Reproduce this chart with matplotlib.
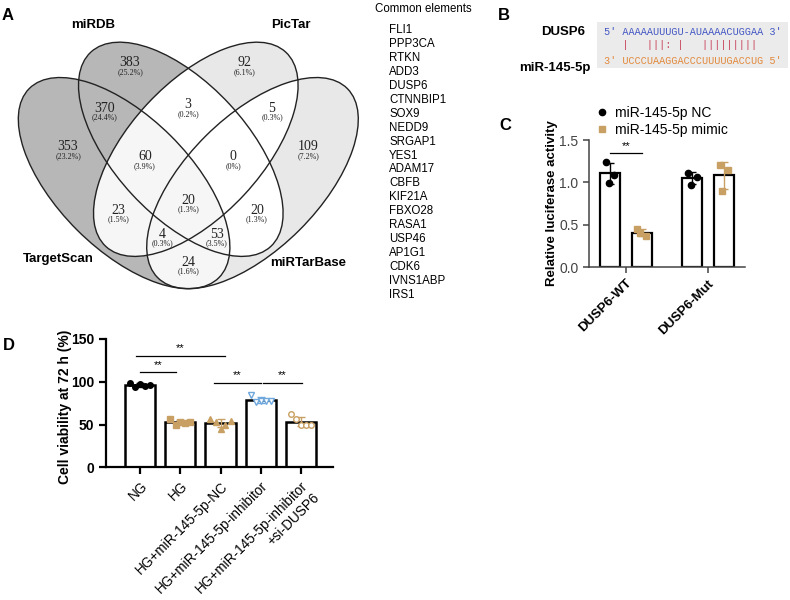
import numpy as np
import matplotlib.pyplot as plt
from matplotlib.patches import Ellipse, Rectangle
from matplotlib.lines import Line2D

plt.rcParams['font.family'] = ['Liberation Sans', 'DejaVu Sans']

# ---------------- data ----------------
# panel A: four-set Venn of predicted targets
set_names = ['TargetScan', 'miRDB', 'PicTar', 'miRTarBase']
venn_counts = [383, 92, 370, 3, 5, 353, 60, 0, 109, 23, 20, 20, 4, 53, 24]
common_genes = ['FLI1', 'PPP3CA', 'RTKN', 'ADD3', 'DUSP6', 'CTNNBIP1', 'SOX9',
                'NEDD9', 'SRGAP1', 'YES1', 'ADAM17', 'CBFB', 'KIF21A', 'FBXO28',
                'RASA1', 'USP46', 'AP1G1', 'CDK6', 'IVNS1ABP', 'IRS1']

# panel B: binding site
target_name = 'DUSP6'
target_seq = 'AAAAAUUUGU-AUAAAACUGGAA'     # 5' -> 3'
mirna_name = 'miR-145-5p'
mirna_seq = 'UCCCUAAGGACCCUUUUGACCUG'      # 3' -> 5'

# panel C: luciferase assay
luc_groups = ['DUSP6-WT', 'DUSP6-Mut']
luc_nc = [[1.24, 1.09, 0.99], [1.11, 1.06, 0.97]]
luc_mimic = [[0.45, 0.37, 0.40], [1.20, 1.15, 0.90]]

# panel D: cell viability
via_groups = ['NG', 'HG', 'HG+miR-145-5p-NC', 'HG+miR-145-5p-inhibitor',
              'HG+miR-145-5p-inhibitor\n+si-DUSP6']
via_values = [[99, 94, 97, 95, 96],
              [57, 50, 53, 52, 53],
              [57, 53, 45, 49, 54],
              [85, 76, 78, 77, 77],
              [62, 56, 49, 50, 50]]

tan = '#c9a063'
blue = '#6fa8dc'

fig = plt.figure(figsize=(7.9, 6), dpi=100)

# background axes in pixel units (y down) for panels A and B
bg = fig.add_axes([0, 0, 1, 1])
bg.axis('off')

# ---------------- panel A ----------------
axis_x = 188.3
eT = (124.1, 183.1, 133.9, 66.4, 44.9)   # cx, cy, semi-major, semi-minor, angle
eM = (180.8, 149.3, 132.4, 66.4, 47.2)
eP = (2 * axis_x - eM[0], eM[1], eM[2], eM[3], -eM[4])
eR = (2 * axis_x - eT[0], eT[1], eT[2], eT[3], -eT[4])
ellipses = [eT, eM, eP, eR]


def inside(e, X, Y):
    cx, cy, a, b, ang = e
    t = np.deg2rad(ang)
    dx, dy = X - cx, Y - cy
    u = dx * np.cos(t) + dy * np.sin(t)
    v = -dx * np.sin(t) + dy * np.cos(t)
    return (u / a) ** 2 + (v / b) ** 2 <= 1


xs = np.arange(10, 370, 0.5)
ys = np.arange(30, 300, 0.5)
X, Y = np.meshgrid(xs, ys)
T, M, P, R = [inside(e, X, Y) for e in ellipses]
n = T.astype(int) + M + P + R
img = np.ones(X.shape + (4,))
img[n == 0, 3] = 0
dark = ((n == 1) & (T | M)) | ((n == 2) & T & M)
light = (n == 1) & (P | R)
pale = T & (n >= 2) & ~dark
img[dark, :3] = 0.72
img[light, :3] = 0.91
img[pale, :3] = 0.965
bg.imshow(img, extent=(10, 370, 300, 30), origin='upper', aspect='auto',
          interpolation='antialiased', zorder=1)
for cx, cy, a, b, ang in ellipses:
    bg.add_patch(Ellipse((cx, cy), 2 * a, 2 * b, angle=ang, fill=False,
                         ec='#222222', lw=1.0, zorder=2))
bg.set_xlim(0, 790)
bg.set_ylim(600, 0)

label_pos = [(130, 63), (245, 63), (105, 108), (188, 105), (272, 108),
             (68, 147), (145, 157), (233, 157), (308, 147),
             (118, 210), (188, 200), (257, 210), (162, 234), (217, 234), (188, 262)]
total = sum(venn_counts)
for c, (x, y) in zip(venn_counts, label_pos):
    ptxt = '(0%)' if c == 0 else f'({100 * c / total:.1f}%)'
    bg.text(x, y, str(c), ha='center', va='center', fontsize=10,
            family='Liberation Serif', color='#222222', zorder=3)
    bg.text(x, y + 9, ptxt, ha='center', va='center', fontsize=5.8,
            family='Liberation Serif', color='#222222', zorder=3)

name_pos = [(58, 259), (93, 25), (291, 25), (308, 263)]
for name, (x, y) in zip(set_names, name_pos):
    bg.text(x, y, name, ha='center', va='center', fontsize=9.5, fontweight='bold')

bg.text(375, 9, 'Common elements', ha='left', va='center', fontsize=8.3)
for i, g in enumerate(common_genes):
    bg.text(389, 30 + i * 13.95, g, ha='left', va='center', fontsize=8.3)

# ---------------- panel B ----------------
bg.add_patch(Rectangle((597, 22), 191, 46, fc='#ebebeb', ec='none'))
bg.text(563, 32, target_name, ha='center', va='center', fontsize=9.5, fontweight='bold')
bg.text(555, 68, mirna_name, ha='center', va='center', fontsize=9.5, fontweight='bold')

# base pairing line: Watson-Crick '|', G-U wobble ':'
wc = {('A', 'U'), ('U', 'A'), ('G', 'C'), ('C', 'G')}
wobble = {('G', 'U'), ('U', 'G')}
pairs = ''.join('|' if (s, m) in wc else ':' if (s, m) in wobble else ' '
                for s, m in zip(target_seq, mirna_seq))
mono = dict(family='Liberation Mono', fontsize=7.3, ha='left', va='center')
bg.text(604, 32, "5' " + target_seq + " 3'", color='#4356c4', **mono)
bg.text(604, 45, "   " + pairs, color='#c8465e', **mono)
bg.text(604, 61, "3' " + mirna_seq + " 5'", color='#e3883a', **mono)

# panel letters
for lab, (x, y) in zip('ABCD', [(8, 15), (504, 15), (505, 125), (9, 346)]):
    bg.text(x, y, lab, ha='center', va='center', fontsize=12, fontweight='bold')

# ---------------- panel C ----------------
axc = fig.add_axes([589 / 790, 1 - 267 / 600, 156 / 790, 127 / 600])
axc.set_facecolor('none')
xc = np.arange(len(luc_groups))
off, w = 0.19, 0.244
jit = [-0.05, 0.05, -0.02]
for vals, sign, col, mk in [(luc_nc, -1, 'black', 'o'), (luc_mimic, 1, tan, 's')]:
    for i, v in enumerate(vals):
        xpos = xc[i] + sign * off
        m, sd = np.mean(v), np.std(v, ddof=1)
        axc.bar(xpos, m, width=w, color='white', edgecolor='black', lw=1.6, zorder=2)
        axc.errorbar(xpos, m, yerr=sd, color=col, capsize=3, lw=1, capthick=1, zorder=3)
        axc.plot(xpos + np.array(jit), v, mk, color=col, ms=4.5, zorder=4)
axc.plot([xc[0] - off, xc[0] + off], [1.35, 1.35], color='black', lw=0.9)
axc.text(xc[0], 1.37, '**', ha='center', va='bottom', fontsize=8)
axc.set_xlim(-0.45, 1.45)
axc.set_ylim(0, 1.5)
axc.set_yticks([0, 0.5, 1.0, 1.5])
axc.set_yticklabels(['0.0', '0.5', '1.0', '1.5'], fontsize=10, color='#333333')
axc.set_xticks(xc)
axc.set_xticklabels(luc_groups, rotation=45, ha='right', rotation_mode='anchor',
                    fontsize=9.5, fontweight='bold')
for s in ['top', 'right']:
    axc.spines[s].set_visible(False)
for s in ['left', 'bottom']:
    axc.spines[s].set_color('#444444')
    axc.spines[s].set_linewidth(1.1)
axc.tick_params(colors='#444444', width=1.1, length=4)
axc.tick_params(axis='x', labelcolor='black')
axc.set_ylabel('Relative luciferase activity', fontsize=9.5, fontweight='bold')
axc.yaxis.set_label_coords(-0.2, 0.5)
handles = [Line2D([], [], marker='o', ls='none', color='black', ms=4.5),
           Line2D([], [], marker='s', ls='none', color=tan, ms=4.5)]
axc.legend(handles, ['miR-145-5p NC', 'miR-145-5p mimic'], loc='upper left',
           bbox_to_anchor=(596 / 790, 1 - 106 / 600), bbox_transform=fig.transFigure,
           frameon=False, fontsize=10, handlelength=0.8, handletextpad=0.6,
           labelspacing=0.2, borderaxespad=0, borderpad=0)

# ---------------- panel D ----------------
axd = fig.add_axes([106 / 790, 1 - 467.3 / 600, 227 / 790, 128.4 / 600])
axd.set_facecolor('none')
xd = np.arange(len(via_groups))
styles = [('black', 'o', 'black'), (tan, 's', tan), (tan, '^', tan),
          (blue, 'v', 'white'), (tan, 'o', 'white')]
jd = np.array([-0.25, -0.12, 0.0, 0.12, 0.25])
for i, (v, (col, mk, fc)) in enumerate(zip(via_values, styles)):
    m, sd = np.mean(v), np.std(v, ddof=1)
    axd.bar(xd[i], m, width=0.75, color='white', edgecolor='black', lw=1.8, zorder=2)
    axd.errorbar(xd[i], m, yerr=sd, color=col, capsize=3, lw=1, capthick=1, zorder=3)
    axd.plot(xd[i] + jd, v, mk, mec=col, mfc=fc, ms=4, mew=1, zorder=4)
sig = [(0, 0.9, 111), (-0.1, 2.1, 130), (1.84, 3.0, 99), (3.05, 4.03, 99)]
for x1, x2, y in sig:
    axd.plot([x1, x2], [y, y], color='black', lw=0.9)
    axd.text((x1 + x2) / 2, y + 3, '**', ha='center', va='bottom', fontsize=8)
axd.set_xlim(-0.85, 4.8)
axd.set_ylim(0, 150)
axd.set_yticks([0, 50, 100, 150])
axd.set_xticks(xd)
axd.set_xticklabels(via_groups, rotation=45, ha='right', rotation_mode='anchor',
                    multialignment='right', fontsize=9.8)
for s in ['top', 'right']:
    axd.spines[s].set_visible(False)
for s in ['left', 'bottom']:
    axd.spines[s].set_linewidth(1.6)
axd.tick_params(width=1.6, length=5, labelsize=10)
axd.tick_params(axis='x', labelsize=9.8)
for t in axd.get_yticklabels():
    t.set_fontweight('bold')
axd.set_ylabel('Cell viability at 72 h (%)', fontsize=10, fontweight='bold')
axd.yaxis.set_label_coords(-0.15, 0.47)

fig.savefig('out.png', dpi=100)
